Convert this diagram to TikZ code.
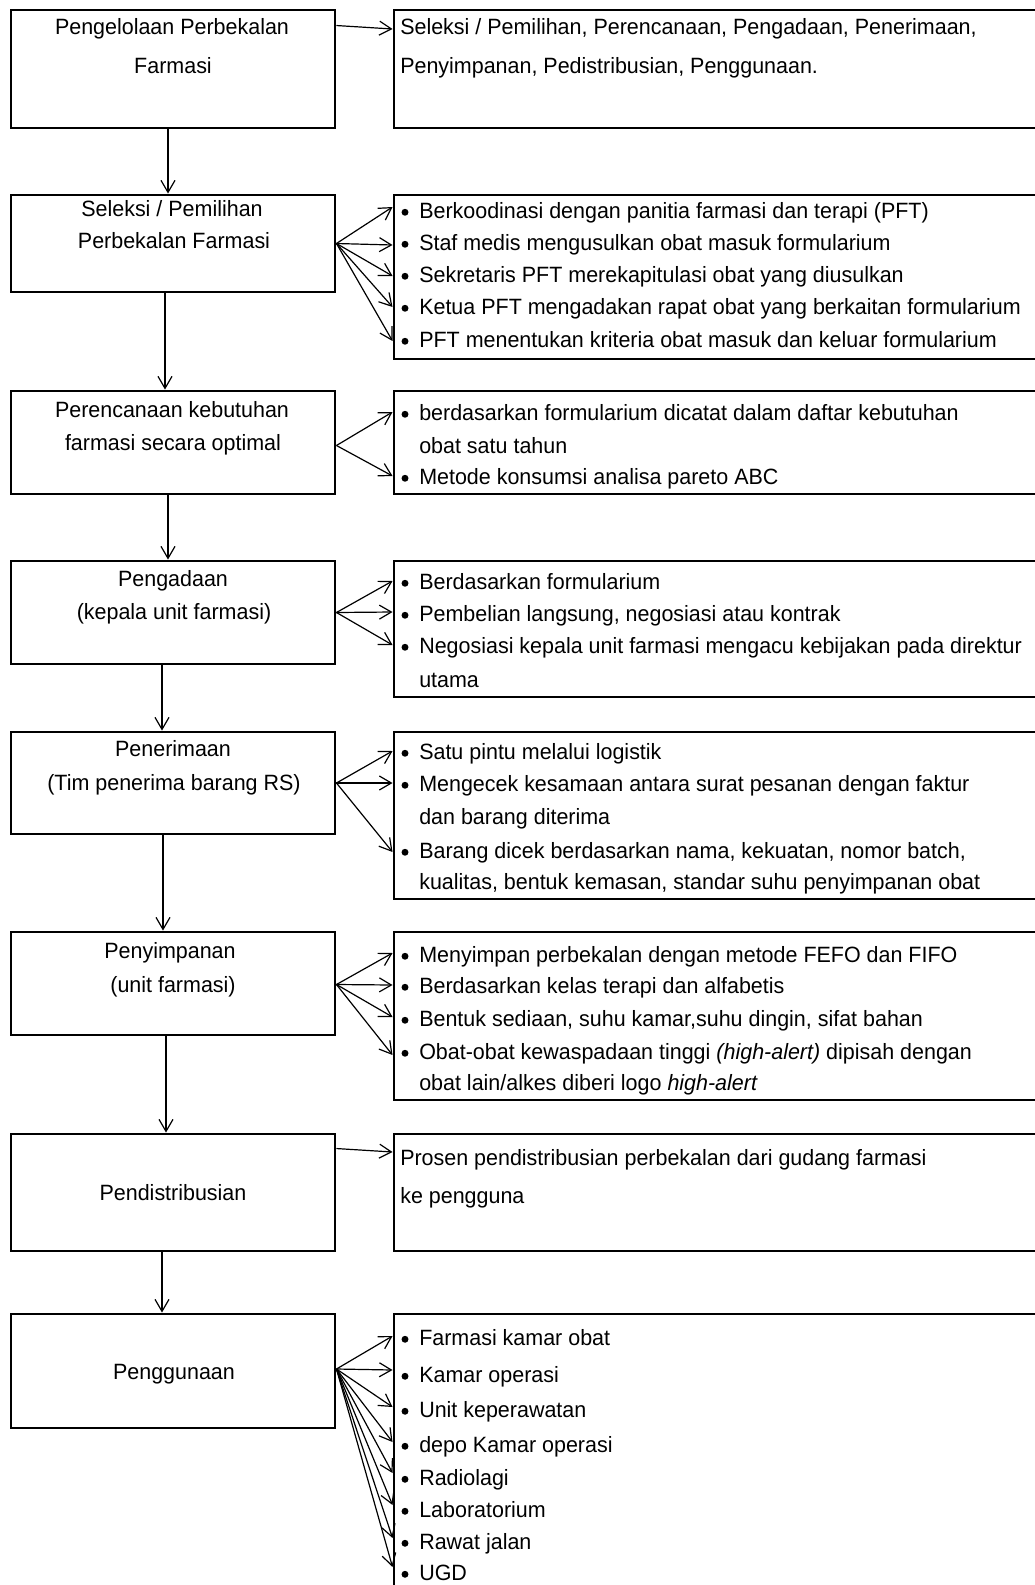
\documentclass[tikz,border=0pt]{standalone}
\usepackage{fontspec}
\setmainfont{Liberation Sans}[FakeStretch=0.97]
\usetikzlibrary{arrows.meta,calc,fit}
\begin{document}
\begin{tikzpicture}[x=0.75pt,y=-0.75pt,
  box/.style={draw,line width=2.2pt,inner sep=0pt},
  arr/.style={line width=0.9pt,-{Straight Barb[length=9pt,width=10.5pt,line width=0.9pt]}},
  lbl/.style={font=\fontsize{16.6}{19}\selectfont,inner sep=0pt,anchor=base},
  itm/.style={font=\fontsize{16.6}{19}\selectfont,inner sep=0pt,anchor=base west},
  dot/.style={circle,fill,inner sep=0pt,minimum size=5.2pt,yshift=4.3pt}]
\path[use as bounding box] (0,0) rectangle (1035,1585);
\clip (0,0) rectangle (1035,1585);

% left boxes
\node[box,fit={(11,10) (335,128)}] (b1) {};
\node[box,fit={(11,195) (335,292)}] (b2) {};
\node[box,fit={(11,391) (335,494)}] (b3) {};
\node[box,fit={(11,561) (335,664)}] (b4) {};
\node[box,fit={(11,732) (335,834)}] (b5) {};
\node[box,fit={(11,932) (335,1035)}] (b6) {};
\node[box,fit={(11,1134) (335,1251)}] (b7) {};
\node[box,fit={(11,1314) (335,1428)}] (b8) {};

% right boxes
\node[box,fit={(394,10) (1045,128)}] (r1) {};
\node[box,fit={(394,195) (1045,359)}] (r2) {};
\node[box,fit={(394,391) (1045,494)}] (r3) {};
\node[box,fit={(394,561) (1045,697)}] (r4) {};
\node[box,fit={(394,732) (1045,899)}] (r5) {};
\node[box,fit={(394,932) (1045,1100)}] (r6) {};
\node[box,fit={(394,1134) (1045,1251)}] (r7) {};
\node[box,fit={(394,1314) (1045,1610)}] (r8) {};

% left texts
\node[lbl] (l1a) at (172,34) {Pengelolaan Perbekalan};
\node[lbl] (l1b) at (173,73) {Farmasi};
\node[lbl] (l2a) at (172,216) {Seleksi / Pemilihan};
\node[lbl] (l2b) at (174,248) {Perbekalan Farmasi};
\node[lbl] (l3a) at (172,417) {Perencanaan kebutuhan};
\node[lbl] (l3b) at (173,450) {farmasi secara optimal};
\node[lbl] (l4a) at (173,586) {Pengadaan};
\node[lbl] (l4b) at (174,619) {(kepala unit farmasi)};
\node[lbl] (l5a) at (173,756) {Penerimaan};
\node[lbl] (l5b) at (174,790) {(Tim penerima barang RS)};
\node[lbl] (l6a) at (170,958) {Penyimpanan};
\node[lbl] (l6b) at (173,992) {(unit farmasi)};
\node[lbl] (l7a) at (173,1200) {Pendistribusian};
\node[lbl] (l8a) at (174,1379) {Penggunaan};

% right box 1
\node[itm] (t1a) at (400,34) {Seleksi / Pemilihan, Perencanaan, Pengadaan, Penerimaan,};
\node[itm] (t1b) at (400,73) {Penyimpanan, Pedistribusian, Penggunaan.};

% right box 2
\foreach \y/\t [count=\i] in {218/{Berkoodinasi dengan panitia farmasi dan terapi (PFT)},
  250/{Staf medis mengusulkan obat masuk formularium},
  282/{Sekretaris PFT merekapitulasi obat yang diusulkan},
  314/{Ketua PFT mengadakan rapat obat yang berkaitan formularium},
  347/{PFT menentukan kriteria obat masuk dan keluar formularium}}{
  \node[dot] (d2\i) at (405,\y) {};
  \node[itm] (t2\i) at (419,\y) {\t};
}

% right box 3
\node[dot] (d31) at (405,420) {};
\node[itm] (t31) at (419,420) {berdasarkan formularium dicatat dalam daftar kebutuhan};
\node[itm] (t31b) at (419,453) {obat satu tahun};
\node[dot] (d32) at (405,484) {};
\node[itm] (t32) at (419,484) {Metode konsumsi analisa pareto ABC};

% right box 4
\node[dot] (d41) at (405,589) {};
\node[itm] (t41) at (419,589) {Berdasarkan formularium};
\node[dot] (d42) at (405,621) {};
\node[itm] (t42) at (419,621) {Pembelian langsung, negosiasi atau kontrak};
\node[dot] (d43) at (405,653) {};
\node[itm] (t43) at (419,653) {Negosiasi kepala unit farmasi mengacu kebijakan pada direktur};
\node[itm] (t43b) at (419,687) {utama};

% right box 5
\node[dot] (d51) at (405,759) {};
\node[itm] (t51) at (419,759) {Satu pintu melalui logistik};
\node[dot] (d52) at (405,791) {};
\node[itm] (t52) at (419,791) {Mengecek kesamaan antara surat pesanan dengan faktur};
\node[itm] (t52b) at (419,824) {dan barang diterima};
\node[dot] (d53) at (405,858) {};
\node[itm] (t53) at (419,858) {Barang dicek berdasarkan nama, kekuatan, nomor batch,};
\node[itm] (t53b) at (419,889) {kualitas, bentuk kemasan, standar suhu penyimpanan obat};

% right box 6
\node[dot] (d61) at (405,962) {};
\node[itm] (t61) at (419,962) {Menyimpan perbekalan dengan metode FEFO dan FIFO};
\node[dot] (d62) at (405,993) {};
\node[itm] (t62) at (419,993) {Berdasarkan kelas terapi dan alfabetis};
\node[dot] (d63) at (405,1026) {};
\node[itm] (t63) at (419,1026) {Bentuk sediaan, suhu kamar,suhu dingin, sifat bahan};
\node[dot] (d64) at (405,1059) {};
\node[itm] (t64) at (419,1059) {Obat-obat kewaspadaan tinggi \textit{(high-alert)} dipisah dengan};
\node[itm] (t64b) at (419,1090) {obat lain/alkes diberi logo \textit{high-alert}};

% right box 7
\node[itm] (t7a) at (400,1165) {Prosen pendistribusian perbekalan dari gudang farmasi};
\node[itm] (t7b) at (400,1203) {ke pengguna};

% right box 8
\foreach \y/\t [count=\i] in {1345/{Farmasi kamar obat},1382/{Kamar operasi},1417/{Unit keperawatan},
  1452/{depo Kamar operasi},1485/{Radiolagi},1517/{Laboratorium},1549/{Rawat jalan},1580/{UGD}}{
  \node[dot] (d8\i) at (405,\y) {};
  \node[itm] (t8\i) at (419,\y) {\t};
}

% arrow target coordinates
\coordinate (a1) at (394,29);
\foreach \y [count=\i] in {207,245,276,307,341}{\coordinate (a2\i) at (394,\y);}
\foreach \y [count=\i] in {412,476}{\coordinate (a3\i) at (394,\y);}
\foreach \y [count=\i] in {581,612,645}{\coordinate (a4\i) at (394,\y);}
\foreach \y [count=\i] in {751,783,852}{\coordinate (a5\i) at (394,\y);}
\foreach \y [count=\i] in {953,985,1017,1055}{\coordinate (a6\i) at (394,\y);}
\coordinate (a7) at (394,1152);
\foreach \y [count=\i] in {1336,1370,1407,1442,1473,1505,1538,1567}{\coordinate (a8\i) at (394,\y);}

% horizontal arrows
\draw[arr] ($(b1.north east)+(0,17)$) -- (r1.west |- a1);
\foreach \i in {1,...,5}{\draw[arr] (b2.east) -- (r2.west |- a2\i);}
\foreach \i in {1,2}{\draw[arr] ($(b3.east)+(0,3)$) -- (r3.west |- a3\i);}
\foreach \i in {1,2,3}{\draw[arr] (b4.east) -- (r4.west |- a4\i);}
\foreach \i in {1,2,3}{\draw[arr] (b5.east) -- (r5.west |- a5\i);}
\foreach \i in {1,...,4}{\draw[arr] ($(b6.east)+(0,1)$) -- (r6.west |- a6\i);}
\draw[arr] ($(b7.north east)+(0,16)$) -- (r7.west |- a7);
\foreach \i in {1,...,8}{\draw[arr] ($(b8.east)+(0,-2)$) -- (r8.west |- a8\i);}

% vertical arrows
\draw[arr] ($(b1.south)+(-5,0)$) -- ($(b2.north)+(-5,0)$);
\draw[arr] ($(b2.south)+(-8,0)$) -- ($(b3.north)+(-8,0)$);
\draw[arr] ($(b3.south)+(-5,0)$) -- ($(b4.north)+(-5,0)$);
\draw[arr] ($(b4.south)+(-11,0)$) -- ($(b5.north)+(-11,0)$);
\draw[arr] ($(b5.south)+(-10,0)$) -- ($(b6.north)+(-10,0)$);
\draw[arr] ($(b6.south)+(-7,0)$) -- ($(b7.north)+(-7,0)$);
\draw[arr] ($(b7.south)+(-11,0)$) -- ($(b8.north)+(-11,0)$);
\end{tikzpicture}
\end{document}
